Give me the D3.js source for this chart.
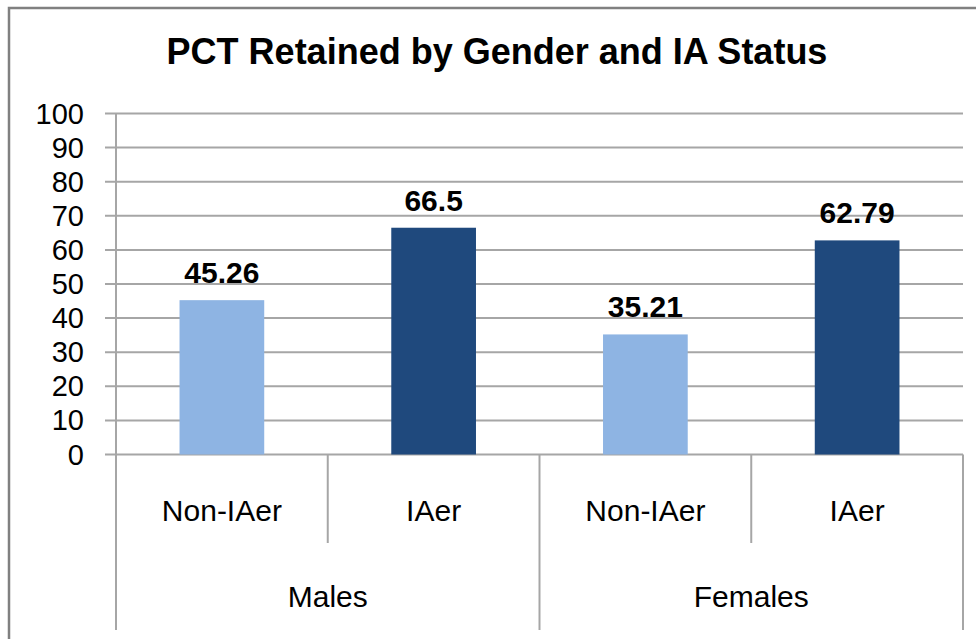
<!DOCTYPE html>
<html>
<head>
<meta charset="utf-8">
<script src="https://cdn.jsdelivr.net/npm/d3@7.9.0/dist/d3.min.js"></script>
<style>
  body { margin: 0; background: #fff; }
  svg { display: block; font-family: "Liberation Sans", Arial, sans-serif; }
</style>
</head>
<body>
<svg width="976" height="639"></svg>
<script>
const title = 'PCT Retained by Gender and IA Status';
const groups = ['Males', 'Females'];
const statuses = ['Non-IAer', 'IAer'];
const maleValues = [45.26, 66.5];
const femaleValues = [35.21, 62.79];
const yTicks = [0, 10, 20, 30, 40, 50, 60, 70, 80, 90, 100];
const colors = ['#8EB4E3', '#1F497D'];

const data = [];
groups.forEach((g, gi) => {
  const vals = gi === 0 ? maleValues : femaleValues;
  statuses.forEach((s, si) => data.push({ group: g, status: s, value: vals[si], si }));
});

const svg = d3.select('svg');

// outer frame (top and left visible)
svg.append('path')
  .attr('d', 'M9,639 V8 H976')
  .attr('fill', 'none')
  .attr('stroke', '#808080')
  .attr('stroke-width', 2.5);

svg.append('text')
  .attr('x', 497).attr('y', 64)
  .attr('text-anchor', 'middle')
  .attr('font-weight', 'bold')
  .attr('font-size', 36)
  .attr('fill', '#000')
  .text(title);

const left = 116, right = 963, y0 = 454.5, y100 = 113.5;

const y = d3.scaleLinear().domain([0, 100]).range([y0, y100]);
const xg = d3.scaleBand().domain(groups).range([left, right]);
const xs = d3.scaleBand().domain(statuses).range([0, xg.bandwidth()]);

// gridlines
svg.append('g')
  .selectAll('line')
  .data(yTicks)
  .join('line')
  .attr('x1', left - 11).attr('x2', right)
  .attr('y1', d => y(d)).attr('y2', d => y(d))
  .attr('stroke', '#a6a6a6')
  .attr('stroke-width', 2);

// y axis line
svg.append('line')
  .attr('x1', left).attr('x2', left)
  .attr('y1', y100).attr('y2', y0)
  .attr('stroke', '#a6a6a6').attr('stroke-width', 2);

svg.append('g')
  .selectAll('text')
  .data(yTicks)
  .join('text')
  .attr('x', 84)
  .attr('y', d => y(d) + 10)
  .attr('text-anchor', 'end')
  .attr('font-size', 29)
  .attr('fill', '#000')
  .text(d => d);

// bars
const barW = xs.bandwidth() * 0.4;
const bx = d => xg(d.group) + xs(d.status) + (xs.bandwidth() - barW) / 2;

svg.append('g')
  .selectAll('rect')
  .data(data)
  .join('rect')
  .attr('x', bx)
  .attr('y', d => y(d.value))
  .attr('width', barW)
  .attr('height', d => y(0) - y(d.value))
  .attr('fill', d => colors[d.si]);

svg.append('g')
  .selectAll('text')
  .data(data)
  .join('text')
  .attr('x', d => bx(d) + barW / 2)
  .attr('y', d => y(d.value) - 17)
  .attr('text-anchor', 'middle')
  .attr('font-weight', 'bold')
  .attr('font-size', 30)
  .attr('fill', '#000')
  .text(d => d.value);

// category axis dividers
const dividers = [];
groups.forEach(g => {
  dividers.push({ x: xg(g), long: true });
  dividers.push({ x: xg(g) + xs(statuses[1]), long: false });
});
dividers.push({ x: right, long: true });

svg.append('g')
  .selectAll('line')
  .data(dividers)
  .join('line')
  .attr('x1', d => d.x).attr('x2', d => d.x)
  .attr('y1', y0).attr('y2', d => d.long ? 630 : 543)
  .attr('stroke', '#a6a6a6').attr('stroke-width', 2);

svg.append('g')
  .selectAll('text')
  .data(data)
  .join('text')
  .attr('x', d => xg(d.group) + xs(d.status) + xs.bandwidth() / 2)
  .attr('y', 521)
  .attr('text-anchor', 'middle')
  .attr('font-size', 30)
  .attr('fill', '#000')
  .text(d => d.status);

svg.append('g')
  .selectAll('text')
  .data(groups)
  .join('text')
  .attr('x', d => xg(d) + xg.bandwidth() / 2)
  .attr('y', 607)
  .attr('text-anchor', 'middle')
  .attr('font-size', 30)
  .attr('fill', '#000')
  .text(d => d);
</script>
</body>
</html>
